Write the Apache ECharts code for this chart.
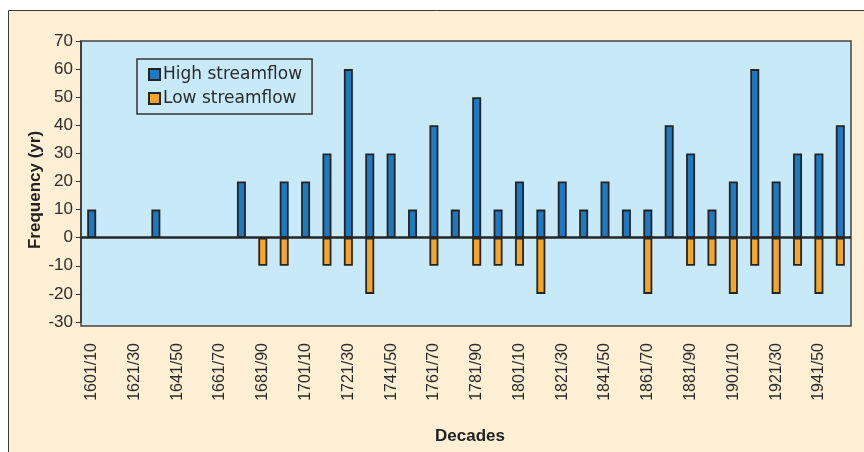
<!DOCTYPE html>
<html>
<head>
<meta charset="utf-8">
<script src="https://cdn.jsdelivr.net/npm/echarts@6/dist/echarts.min.js"></script>
<style>
  html, body { margin: 0; padding: 0; background: #fff; }
  #chart { width: 864px; height: 452px; }
</style>
</head>
<body>
<div id="chart"></div>
<script>
const decades = [
  '1601/10', '1611/20', '1621/30', '1631/40', '1641/50', '1651/60',
  '1661/70', '1671/80', '1681/90', '1691/00', '1701/10', '1711/20',
  '1721/30', '1731/40', '1741/50', '1751/60', '1761/70', '1771/80',
  '1781/90', '1791/00', '1801/10', '1811/20', '1821/30', '1831/40',
  '1841/50', '1851/60', '1861/70', '1871/80', '1881/90', '1891/00',
  '1901/10', '1911/20', '1921/30', '1931/40', '1941/50', '1951/60'
]
// null = no bar drawn for that decade
const highFlow = [
  10, null, null, 10, null, null, null, 20, null, 20, 20, 30,
  60, 30, 30, 10, 40, 10, 50, 10, 20, 10, 20, 10,
  20, 10, 10, 40, 30, 10, 20, 60, 20, 30, 30, 40
]
const lowFlow = [
  null, null, null, null, null, null, null, null, -10, -10, null, -10,
  -10, -20, null, null, -10, null, -10, -10, -10, -20, null, null,
  null, null, -20, null, -10, -10, -20, -10, -20, -10, -20, -10
]
const yTicks = { min: -30, max: 70, interval: 10 }

const chart = echarts.init(document.getElementById('chart'))

const barBorder = { borderColor: '#242424', borderWidth: 1.8 }

chart.setOption({
  backgroundColor: '#ffffff',
  animation: false,
  textStyle: { fontFamily: 'Liberation Sans' },
  graphic: [
    // cream page panel
    {
      type: 'rect', z: -2,
      shape: { x: 8.5, y: 10.5, width: 900, height: 500 },
      style: { fill: '#FFEFD4', stroke: '#3a3a3a', lineWidth: 1 }
    },
    // light blue plot panel
    {
      type: 'rect', z: -1,
      shape: { x: 81, y: 41, width: 770, height: 285 },
      style: { fill: '#C7E9F8', stroke: '#444', lineWidth: 1.5 }
    },
    {
      type: 'text', z: 5,
      x: 35, y: 190, rotation: Math.PI / 2,
      style: {
        text: 'Frequency (yr)', fill: '#222',
        font: 'bold 17px "Liberation Sans"',
        align: 'center', verticalAlign: 'middle'
      }
    }
  ],
  grid: {
    left: 81, right: 13, top: 41, bottom: 130
  },
  legend: {
    left: 137, top: 59,
    orient: 'vertical',
    icon: 'rect',
    itemWidth: 11, itemHeight: 11, itemGap: 7,
    padding: [7, 10, 7, 11],
    borderColor: '#333', borderWidth: 1.5,
    backgroundColor: '#C7E9F8',
    textStyle: { fontFamily: 'DejaVu Sans', fontSize: 17, color: '#2b2b2b', padding: [0, 0, 0, -2] },
    data: ['High streamflow', 'Low streamflow']
  },
  xAxis: {
    type: 'category',
    data: decades,
    name: 'Decades',
    nameLocation: 'middle',
    nameGap: 106,
    nameTextStyle: { fontWeight: 'bold', fontSize: 17, color: '#222', padding: [0, 0, 0, 8] },
    axisLine: { show: false, onZero: false },
    axisTick: { show: false },
    axisLabel: {
      interval: 1, rotate: 90, margin: 21,
      fontSize: 16, color: '#2b2b2b'
    }
  },
  yAxis: {
    type: 'value',
    min: yTicks.min, max: yTicks.max, interval: yTicks.interval,
    axisLine: { show: true, lineStyle: { color: '#333', width: 1.5 } },
    axisTick: { show: true, length: 5, lineStyle: { color: '#333' } },
    axisLabel: { fontSize: 17, color: '#2b2b2b', margin: 8 },
    splitLine: { show: false }
  },
  series: [
    {
      name: 'High streamflow',
      type: 'bar',
      stack: 'flow',
      barWidth: 9,
      data: highFlow,
      itemStyle: Object.assign({ color: '#1E79C1' }, barBorder),
      markLine: {
        silent: true,
        symbol: 'none',
        label: { show: false },
        lineStyle: { color: '#262626', width: 2.5, type: 'solid' },
        data: [{ yAxis: 0 }]
      }
    },
    {
      name: 'Low streamflow',
      type: 'bar',
      stack: 'flow',
      barWidth: 9,
      data: lowFlow,
      itemStyle: Object.assign({ color: '#F4A62A' }, barBorder)
    }
  ]
})
</script>
</body>
</html>
